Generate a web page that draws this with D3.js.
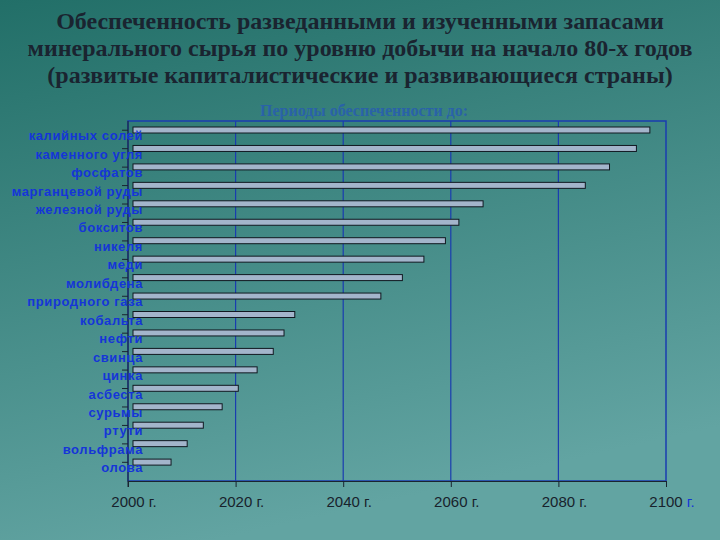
<!DOCTYPE html>
<html><head><meta charset="utf-8">
<script src="https://cdn.jsdelivr.net/npm/d3@7"></script>
<style>body{margin:0}svg{display:block}</style></head>
<body><svg id="chart" width="720" height="540"></svg>
<script>
const categories = ["калийных солей","каменного угля","фосфатов","марганцевой руды","железной руды","бокситов","никеля","меди","молибдена","природного газа","кобальта","нефти","свинца","цинка","асбеста","сурьмы","ртути","вольфрама","олова"];
const values = [2097,2094.5,2089.5,2085,2066,2061.5,2059,2055,2051,2047,2031,2029,2027,2024,2020.5,2017.5,2014,2011,2008];
const ticks = [2000,2020,2040,2060,2080,2100];

const svg = d3.select("#chart");
const defs = svg.append("defs");
const grad = defs.append("linearGradient").attr("id","bg").attr("x1",0).attr("y1",0).attr("x2",0.3).attr("y2",1);
grad.append("stop").attr("offset",0).attr("stop-color","#226f68");
grad.append("stop").attr("offset",1).attr("stop-color","#62a4a2");
svg.append("rect").attr("width",720).attr("height",540).attr("fill","url(#bg)");

const title = ["Обеспеченность разведанными и изученными запасами","минерального сырья по уровню добычи на начало 80-х годов","(развитые капиталистические и развивающиеся страны)"];
svg.append("g").selectAll("text").data(title).join("text")
  .attr("x",360).attr("y",(d,i)=>29+i*27).attr("text-anchor","middle")
  .attr("font-family","Liberation Serif").attr("font-weight","bold").attr("font-size",24)
  .attr("fill","#1a2430").text(d=>d);
svg.append("text").attr("x",364).attr("y",116).attr("text-anchor","middle")
  .attr("font-family","Liberation Serif").attr("font-weight","bold").attr("font-size",16)
  .attr("fill","#2a62a8").text("Периоды обеспеченности до:");

const m = {left:128,right:666,top:121,bottom:481};
const x = d3.scaleLinear().domain([2000,2100]).range([m.left,m.right]);
const y = d3.scaleBand().domain(categories).range([m.top,m.top+19*18.45]);

svg.append("rect").attr("x",m.left).attr("y",m.top).attr("width",m.right-m.left).attr("height",m.bottom-m.top)
  .attr("fill","none").attr("stroke","#1a3cb0").attr("stroke-width",1.5);
svg.append("g").selectAll("line").data(ticks.slice(1,-1)).join("line")
  .attr("x1",d=>x(d)).attr("x2",d=>x(d)).attr("y1",m.top).attr("y2",m.bottom)
  .attr("stroke","#1a3cb0").attr("stroke-width",1.2);

svg.append("g").selectAll("rect").data(values).join("rect")
  .attr("x",x(2000)+5).attr("y",(d,i)=>y(categories[i])+6).attr("height",6)
  .attr("width",d=>x(d)-x(2000)-5)
  .attr("fill","#a3b5cb").attr("stroke","#101820").attr("stroke-width",1);

svg.append("g").attr("transform",`translate(${m.left},0)`)
  .call(d3.axisLeft(y).tickSize(6).tickFormat(""))
  .call(g=>g.selectAll("path").remove())
  .call(g=>g.selectAll("line").attr("stroke","#1a2430"));
svg.append("line").attr("x1",m.left).attr("x2",m.left).attr("y1",m.top).attr("y2",m.bottom+6).attr("stroke","#1a2430");
svg.append("g").selectAll("text").data(categories).join("text")
  .attr("x",143).attr("y",d=>y(d)+y.bandwidth()/2+10).attr("text-anchor","end")
  .attr("font-family","Liberation Sans").attr("font-weight","bold").attr("font-size",13)
  .attr("letter-spacing",0.6).attr("fill","#1535d8").text(d=>d);

const xa = svg.append("g").attr("transform",`translate(0,${m.bottom})`)
  .call(d3.axisBottom(x).tickValues(ticks).tickSize(6).tickFormat(""));
xa.selectAll("line,path").attr("stroke","#1a2430");
const tl = svg.append("g").selectAll("text").data(ticks).join("text")
  .attr("x",d=>x(d)+6).attr("y",m.bottom+26).attr("text-anchor","middle")
  .attr("font-family","Liberation Sans").attr("font-size",15).attr("fill","#18222c");
tl.append("tspan").text(d=>d+" ");
tl.append("tspan").attr("fill",(d,i)=>i===ticks.length-1?"#1535d8":"#18222c").text("г.");
</script></body></html>
